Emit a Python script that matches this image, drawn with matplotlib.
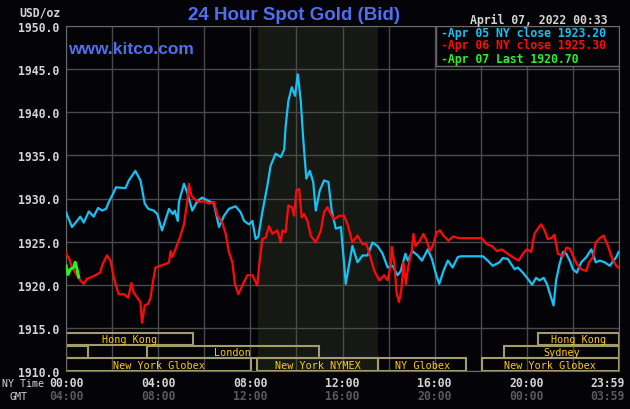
import matplotlib
matplotlib.use('Agg')
from matplotlib import pyplot as plt
from matplotlib.patches import Rectangle
from matplotlib.transforms import blended_transform_factory, offset_copy

# ---- data (hours after 00:00 NY time, price USD/oz) ----
cyan_hours = [0.00, 0.26, 0.48, 0.62, 0.77, 0.99, 1.20, 1.39, 1.57, 1.74, 1.86, 2.07, 2.17,
              2.58, 2.73, 3.01, 3.23, 3.42, 3.57, 3.81, 3.96, 4.17, 4.47, 4.64, 4.72, 4.85,
              4.90, 5.12, 5.26, 5.48, 5.70, 5.91, 6.20, 6.42, 6.64, 6.86, 7.07, 7.36, 7.58,
              7.73, 7.94, 8.09, 8.23, 8.35, 8.52, 8.74, 8.88, 9.10, 9.32, 9.47, 9.53, 9.65,
              9.80, 9.94, 10.06, 10.19, 10.29, 10.43, 10.58, 10.73, 10.84, 11.01, 11.20,
              11.39, 11.53, 11.71, 11.93, 12.07, 12.14, 12.29, 12.43, 12.65, 12.87, 13.09,
              13.30, 13.52, 13.74, 13.96, 14.17, 14.39, 14.53, 14.73, 14.83, 15.04, 15.26,
              15.45, 15.70, 15.88, 16.06, 16.20, 16.38, 16.57, 16.78, 17.00, 17.14, 18.09,
              18.30, 18.52, 18.81, 18.96, 19.17, 19.47, 19.61, 19.83, 20.04, 20.23, 20.40,
              20.55, 20.73, 20.87, 21.01, 21.16, 21.27, 21.42, 21.57, 21.71, 21.86, 22.00,
              22.17, 22.36, 22.58, 22.80, 22.99, 23.16, 23.38, 23.60, 23.88, 23.98]
cyan_prices = [1928.4, 1926.7, 1927.4, 1927.9, 1927.2, 1928.5, 1927.9, 1928.9, 1928.6, 1928.8,
               1929.6, 1930.7, 1931.3, 1931.2, 1932.1, 1933.2, 1932.1, 1929.4, 1928.8, 1928.6,
               1928.2, 1926.3, 1928.8, 1928.2, 1928.6, 1927.4, 1929.6, 1931.7, 1930.7, 1928.6,
               1929.7, 1930.1, 1929.7, 1929.4, 1926.7, 1928.0, 1928.8, 1929.1, 1928.4, 1927.4,
               1927.0, 1927.4, 1925.3, 1925.6, 1928.4, 1931.5, 1933.8, 1935.2, 1934.8, 1935.7,
               1938.3, 1941.3, 1942.9, 1941.9, 1944.4, 1941.3, 1937.1, 1932.3, 1933.2, 1931.9,
               1928.6, 1930.9, 1932.1, 1931.9, 1928.6, 1926.5, 1926.7, 1922.4, 1920.1, 1922.4,
               1924.5, 1922.6, 1923.4, 1923.4, 1924.9, 1924.5, 1923.6, 1922.0, 1922.2, 1921.1,
               1921.6, 1923.6, 1922.8, 1923.9, 1923.4, 1922.8, 1924.1, 1923.0, 1921.2, 1920.1,
               1921.6, 1922.8, 1922.0, 1923.2, 1923.3, 1923.3, 1922.8, 1922.2, 1922.6, 1923.1,
               1923.0, 1921.8, 1922.0, 1921.4, 1920.7, 1920.0, 1920.8, 1920.5, 1920.8, 1920.1,
               1918.9, 1917.6, 1920.5, 1922.4, 1923.8, 1923.6, 1922.8, 1921.8, 1921.4, 1922.6,
               1923.2, 1924.1, 1922.6, 1922.8, 1922.6, 1922.2, 1923.2, 1923.8]

red_hours = [0.00, 0.14, 0.26, 0.48, 0.62, 0.77, 0.91, 1.13, 1.27, 1.48, 1.59, 1.78, 1.93,
             2.07, 2.17, 2.29, 2.51, 2.70, 2.84, 2.94, 3.09, 3.23, 3.30, 3.42, 3.57, 3.67,
             3.77, 3.88, 4.10, 4.32, 4.47, 4.54, 4.61, 4.75, 4.97, 5.12, 5.26, 5.33, 5.45,
             5.60, 5.77, 5.99, 6.20, 6.42, 6.57, 6.78, 6.93, 7.07, 7.22, 7.33, 7.48, 7.65,
             7.87, 8.09, 8.30, 8.40, 8.52, 8.67, 8.81, 8.96, 9.17, 9.32, 9.39, 9.53, 9.65,
             9.80, 9.90, 10.00, 10.12, 10.23, 10.33, 10.48, 10.62, 10.84, 11.06, 11.20,
             11.35, 11.49, 11.64, 11.86, 12.07, 12.22, 12.43, 12.65, 12.87, 13.04, 13.19,
             13.38, 13.60, 13.81, 13.96, 14.10, 14.14, 14.25, 14.35, 14.45, 14.55, 14.65,
             14.75, 14.86, 15.00, 15.08, 15.17, 15.36, 15.51, 15.65, 15.80, 15.94, 16.09,
             16.23, 16.38, 16.60, 16.81, 17.03, 18.04, 18.26, 18.48, 18.70, 18.91, 19.17,
             19.39, 19.65, 19.83, 20.00, 20.19, 20.33, 20.48, 20.62, 20.77, 20.91, 21.06,
             21.20, 21.35, 21.57, 21.71, 21.86, 22.00, 22.17, 22.36, 22.58, 22.70, 22.87,
             22.99, 23.16, 23.33, 23.52, 23.71, 23.88, 23.98]
red_prices = [1923.6, 1923.0, 1922.0, 1921.1, 1920.5, 1920.1, 1920.7, 1920.9, 1921.1, 1921.4,
              1922.4, 1923.4, 1922.8, 1920.9, 1919.9, 1918.9, 1918.9, 1918.5, 1920.2, 1919.1,
              1918.5, 1918.0, 1915.6, 1917.6, 1917.8, 1918.5, 1920.3, 1922.0, 1922.2, 1922.4,
              1922.6, 1923.9, 1923.2, 1924.1, 1925.7, 1927.0, 1929.6, 1931.7, 1930.3, 1929.9,
              1929.6, 1929.7, 1929.4, 1929.6, 1928.0, 1927.2, 1925.9, 1923.8, 1922.6, 1920.1,
              1918.9, 1919.9, 1921.1, 1921.1, 1919.9, 1922.6, 1925.3, 1925.5, 1926.8, 1925.9,
              1926.3, 1924.9, 1926.3, 1926.1, 1929.2, 1929.0, 1928.0, 1930.9, 1931.1, 1927.8,
              1928.2, 1927.4, 1925.7, 1924.9, 1926.3, 1928.4, 1929.0, 1928.2, 1927.6, 1928.0,
              1928.0, 1927.0, 1924.9, 1925.7, 1924.7, 1924.7, 1923.4, 1921.6, 1920.5, 1921.1,
              1920.5, 1922.4, 1924.4, 1922.4, 1919.0, 1918.0, 1919.3, 1922.6, 1920.1, 1922.2,
              1923.8, 1925.9, 1924.5, 1925.1, 1925.9, 1925.1, 1923.9, 1924.7, 1926.1, 1926.3,
              1925.7, 1925.1, 1925.6, 1925.4, 1925.4, 1924.7, 1924.5, 1923.9, 1924.1, 1923.6,
              1923.2, 1922.8, 1923.6, 1924.1, 1923.8, 1925.9, 1926.5, 1927.0, 1926.3, 1925.3,
              1925.4, 1925.8, 1923.6, 1923.3, 1924.3, 1924.2, 1923.4, 1922.4, 1921.8, 1921.6,
              1922.6, 1923.2, 1924.9, 1925.4, 1925.7, 1924.5, 1923.0, 1922.2, 1922.0]

green_hours = [0.00, 0.09, 0.19, 0.33, 0.40, 0.48, 0.55]
green_prices = [1922.2, 1921.2, 1921.8, 1922.0, 1922.6, 1921.8, 1920.9]

legend_labels = ['-Apr 05 NY close 1923.20', '-Apr 06 NY close 1925.30', '-Apr 07 Last 1920.70']
ny_labels = ['00:00', '04:00', '08:00', '12:00', '16:00', '20:00', '23:59']
gmt_labels = ['04:00', '08:00', '12:00', '16:00', '20:00', '00:00', '03:59']
label_hours = [0, 4, 8, 12, 16, 20, 24]

# trading sessions: (row, start hour, end hour, label)
sessions = [
    (0, 0.0, 5.5, 'Hong Kong'),
    (0, 20.5, 24.0, 'Hong Kong'),
    (1, 0.0, 0.96, ''),
    (1, 3.5, 10.96, 'London'),
    (1, 19.0, 24.0, 'Sydney'),
    (2, 0.0, 8.05, 'New York Globex'),
    (2, 8.3, 13.55, 'New York NYMEX'),
    (2, 13.55, 17.38, 'NY Globex'),
    (2, 18.04, 24.0, 'New York Globex'),
]
nymex_open, nymex_close = 8.33, 13.55

BG = '#040307'
GRID = '#4a4a4a'
TXT = '#d4d4d4'
BLUE = '#4f6ff0'
CYAN = '#14c3f5'
RED = '#ff0a0a'
GREEN = '#22f522'
MONO = 'DejaVu Sans Mono'

fig = plt.figure(figsize=(6.3, 4.1), dpi=100, facecolor=BG)
ax = fig.add_axes([66 / 630, 1 - 372 / 410, 553 / 630, 345 / 410], facecolor=BG)

ax.axvspan(nymex_open, nymex_close, color='#151813', zorder=0, lw=0)

ax.set_xlim(0, 24)
ax.set_ylim(1910, 1950)
ax.set_xticks(range(0, 25, 2))
ax.set_xticklabels([])
ax.set_yticks(range(1910, 1951, 5))
ax.set_yticklabels([f'{v:.1f}' for v in range(1910, 1951, 5)],
                   family=MONO, fontweight='bold', fontsize=8.3, color=TXT)
ax.tick_params(length=0, pad=5)
ax.grid(True, color=GRID, lw=1, zorder=1)
for s in ax.spines.values():
    s.set_color('#6a6a6a')

# session boxes
row_bottom = [1913.0, 1911.5, 1910.0]
for row, start, end, label in sessions:
    y0 = row_bottom[row]
    ax.add_patch(Rectangle((start, y0), end - start, 1.45, fill=False,
                           edgecolor='#a39d6b', lw=1.5, zorder=2))
    if label:
        ax.text((start + end) / 2, y0 + 0.7, label, ha='center', va='center',
                family=MONO, fontsize=7.3, color='#ffcc00', zorder=3)

ax.plot(cyan_hours, cyan_prices, color=CYAN, lw=1.6, zorder=4)
ax.plot(red_hours, red_prices, color=RED, lw=1.6, zorder=4)
ax.plot(green_hours, green_prices, color=GREEN, lw=2.2, zorder=5)

# legend box
ax.add_patch(Rectangle((0.6685, 0.885), 0.3315, 0.115, transform=ax.transAxes,
                       facecolor=BG, edgecolor='#6a6a6a', lw=1, zorder=6))
for lbl, col, yy in zip(legend_labels, [CYAN, RED, GREEN], [0.980, 0.946, 0.907]):
    ax.text(0.678, yy, lbl, transform=ax.transAxes, ha='left', va='center',
            family=MONO, fontweight='bold', fontsize=8.3, color=col, zorder=7)

# time labels under the axis
trans = blended_transform_factory(ax.transData, ax.transAxes)
for h, ny, gmt in zip(label_hours, ny_labels, gmt_labels):
    ha = 'right' if h == 24 else 'center'
    t = offset_copy(trans, fig=fig, x=6 if h == 24 else 0, y=0, units='dots')
    ax.text(h, -12 / 345, ny, transform=t, ha=ha, va='center', family=MONO,
            fontweight='bold', fontsize=8.3, color=TXT)
    ax.text(h, -25 / 345, gmt, transform=t, ha=ha, va='center', family=MONO,
            fontweight='bold', fontsize=8.3, color='#5a5a5a')

fig.text(2 / 630, 1 - 384 / 410, 'NY Time', family=MONO, fontsize=7.2, color=TXT,
         ha='left', va='center')
fig.text(10 / 630, 1 - 397 / 410, 'GMT', family=MONO, fontsize=7.2, color=TXT,
         ha='left', va='center')
fig.text(61 / 630, 1 - 13 / 410, 'USD/oz', family=MONO, fontweight='bold', fontsize=8.3,
         color=TXT, ha='right', va='center')
fig.text(294 / 630, 1 - 15 / 410, '24 Hour Spot Gold (Bid)', family='Liberation Sans',
         fontweight='bold', fontsize=13.5, color=BLUE, ha='center', va='center')
fig.text(68 / 630, 1 - 49 / 410, 'www.kitco.com', family='Liberation Sans',
         fontweight='bold', fontsize=12.5, color=BLUE, ha='left', va='center')
fig.text(608 / 630, 1 - 20 / 410, 'April 07, 2022 00:33', family=MONO, fontweight='bold',
         fontsize=8.3, color=TXT, ha='right', va='center')

fig.savefig('out.png', dpi=100, facecolor=BG)
